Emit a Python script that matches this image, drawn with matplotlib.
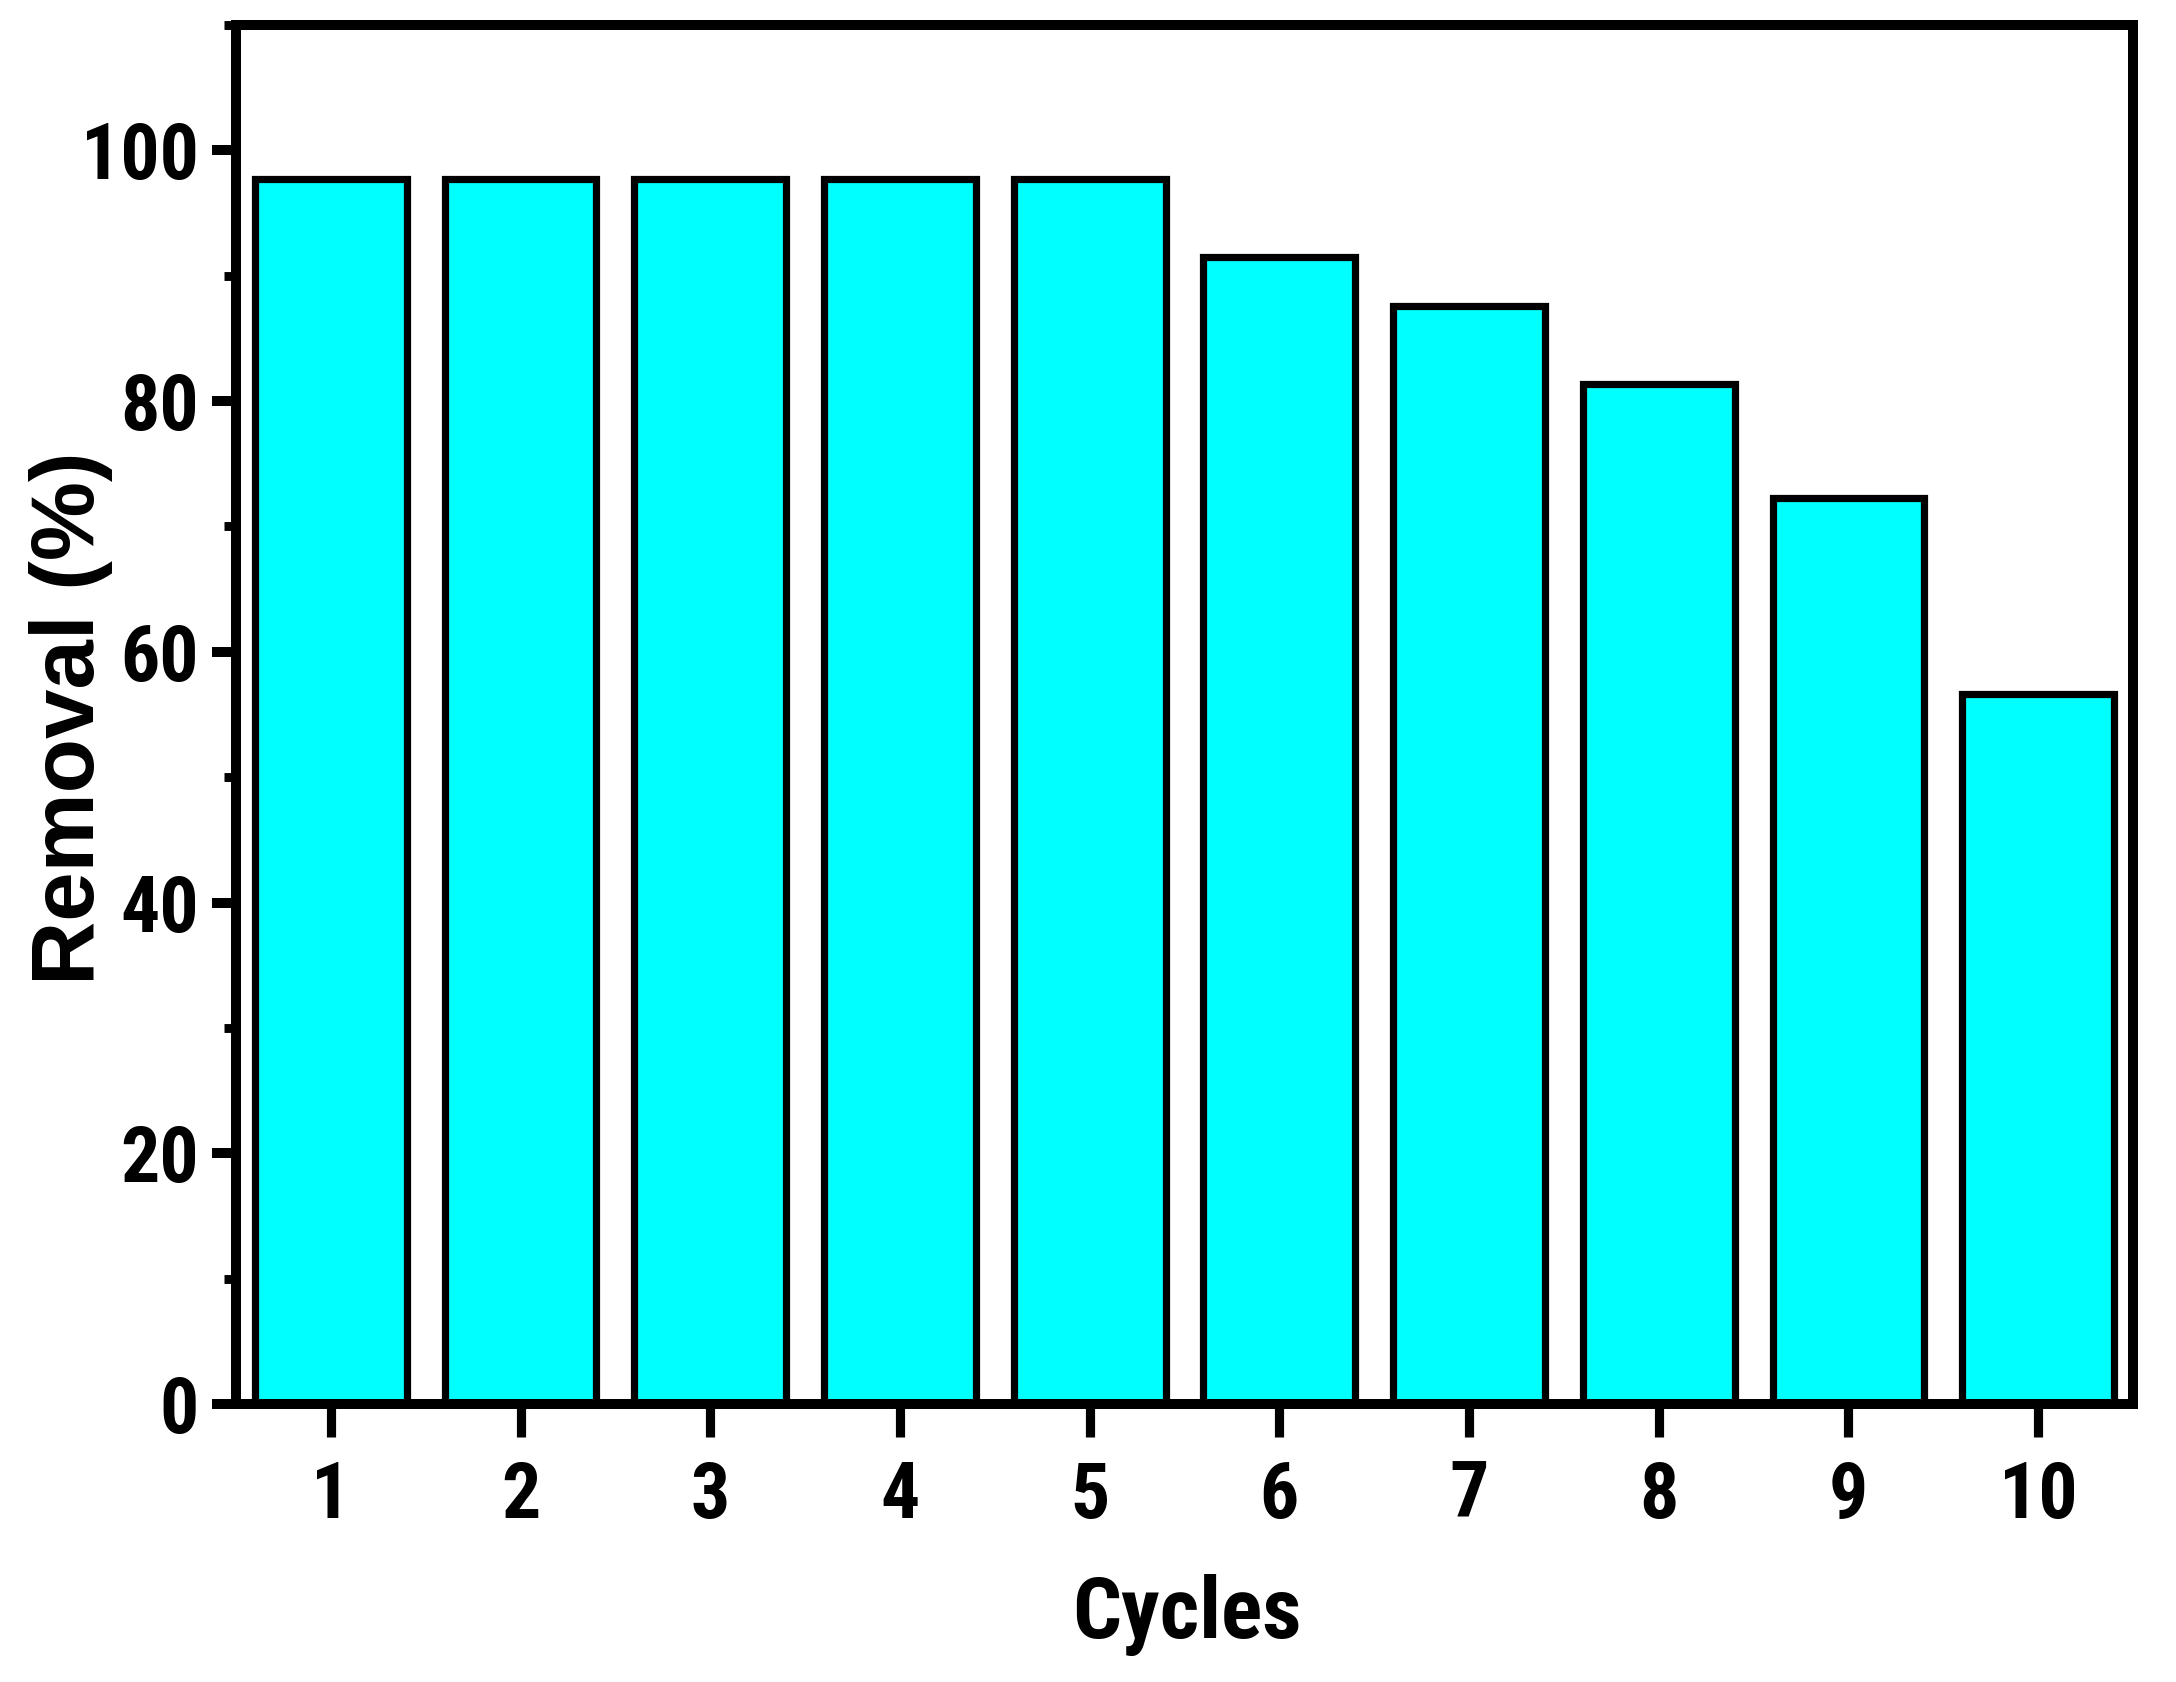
import matplotlib
matplotlib.use("Agg")
import matplotlib.pyplot as plt
from matplotlib import font_manager as fm
from matplotlib.ticker import MultipleLocator

cycles = [1, 2, 3, 4, 5, 6, 7, 8, 9, 10]
removal = [97.7, 97.7, 97.7, 97.7, 97.7, 91.5, 87.6, 81.4, 72.3, 56.6]
tick_labels = [str(c) for c in cycles]


def pick_font(candidates):
    for name in candidates:
        try:
            path = fm.findfont(fm.FontProperties(family=name, weight="bold"),
                               fallback_to_default=False)
            fam = fm.FontProperties(fname=path).get_name()
            if fam.lower() == name.lower():
                return name
        except Exception:
            pass
    return "DejaVu Sans"


narrow = pick_font(["Liberation Sans Narrow", "Arial Narrow", "Roboto Condensed",
                    "PT Sans Narrow", "Archivo Narrow", "Liberation Sans"])
wide = pick_font(["Liberation Sans", "Arial", "Arimo"])

fig = plt.figure(figsize=(10.88, 8.41), dpi=200)
ax = fig.add_axes([0.1085, 0.1653, 0.9802 - 0.1085, 0.9851 - 0.1653])

ax.bar(cycles, removal, width=0.8, color="#00FFFF", edgecolor="black", linewidth=2.6)

ax.set_xlim(0.5, 10.5)
ax.set_ylim(0, 110)
ax.set_xticks(cycles)
ax.set_xticklabels(tick_labels)
ax.set_yticks([0, 20, 40, 60, 80, 100])
ax.yaxis.set_minor_locator(MultipleLocator(10))

for s in ax.spines.values():
    s.set_linewidth(3.6)

ax.tick_params(axis="y", which="major", direction="out", length=8.5, width=3.6, pad=5)
ax.tick_params(axis="y", which="minor", direction="out", length=4.2, width=3.2)
ax.tick_params(axis="x", which="major", direction="out", length=12, width=3.3, pad=8)
ax.tick_params(axis="x", which="minor", bottom=False)

for lab in ax.get_xticklabels() + ax.get_yticklabels():
    lab.set_fontfamily(narrow)
    lab.set_fontweight("bold")
    lab.set_fontsize(28)

ax.set_xlabel("Cycles", fontfamily=narrow, fontweight="bold", fontsize=31)
ax.xaxis.set_label_coords(0.501, -0.170)
ax.xaxis.label.set_va("baseline")

ax.set_ylabel("Removal (%)", fontfamily=wide, fontweight="bold", fontsize=32)
ax.yaxis.set_label_coords(-0.087, 0.4975)
ax.yaxis.label.set_va("center")

fig.savefig("out.png", dpi=200)
